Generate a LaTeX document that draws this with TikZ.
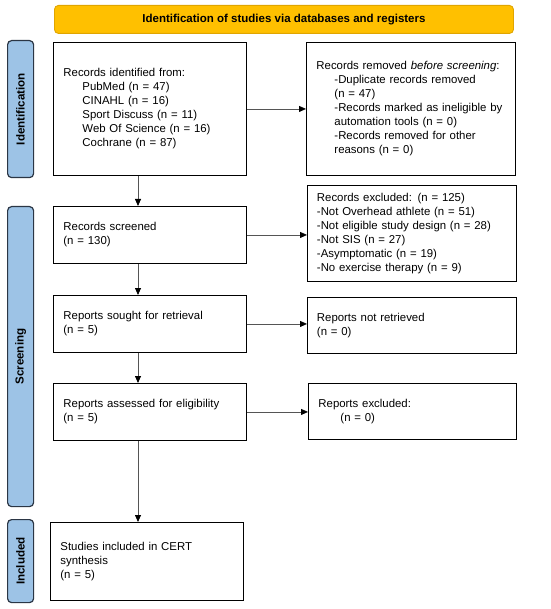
\documentclass[tikz,border=0pt]{standalone}
\usepackage{fontspec}
\setmainfont{Liberation Sans}
\usetikzlibrary{arrows.meta}
\definecolor{gold}{HTML}{FFC000}
\definecolor{goldline}{HTML}{E0A500}
\definecolor{sideblue}{HTML}{9DC3E6}
\definecolor{sideline}{HTML}{2B3645}
\definecolor{arrgray}{HTML}{555555}
\begin{document}
\begin{tikzpicture}[x=1pt,y=-1pt,
  box/.style={draw=black,line width=0.9pt,fill=white,anchor=north west,inner xsep=10pt,inner ysep=0pt,align=left,font=\fontsize{11.4}{14}\selectfont},
  side/.style={draw=sideline,line width=1.2pt,fill=sideblue,rounded corners=4pt,anchor=north west,inner sep=0pt},
  sidetext/.style={rotate=90,font=\fontsize{11.6}{13}\selectfont\bfseries},
  arr/.style={draw=arrgray,line width=0.8pt,-{Triangle[length=7pt,width=6pt,color=black]}}]
\useasboundingbox (0,0) rectangle (550,609);
% banner
\node[draw=goldline,line width=0.9pt,fill=gold,rounded corners=4pt,anchor=north west,minimum width=459pt,minimum height=28pt,inner sep=0pt,font=\fontsize{11.5}{13}\selectfont\bfseries] (banner) at (54,5) {Identification of studies via databases and registers};
% side bars
\node[side,minimum width=26pt,minimum height=137pt] (sid) at (7,40) {};
\node[sidetext] (sidt) at (sid.center) {Identification};
\node[side,minimum width=26pt,minimum height=300pt] (sscr) at (7,206) {};
\node[sidetext] (sscrt) at (sscr.center) {Screening};
\node[side,minimum width=26pt,minimum height=83pt] (sinc) at (7,519) {};
\node[sidetext] (sinct) at (sinc.center) {Included};
% boxes
\node[box,minimum width=193pt,minimum height=133pt,text width=173pt] (ident) at (53,42) {Records identified from:\\
\hspace*{19pt}PubMed (n = 47)\\
\hspace*{19pt}CINAHL (n = 16)\\
\hspace*{19pt}Sport Discuss (n = 11)\\
\hspace*{19pt}Web Of Science (n = 16)\\
\hspace*{19pt}Cochrane (n = 87)};
\node[box,minimum width=209pt,minimum height=133pt,text width=189pt] (removed) at (306,42) {Records removed \textit{before screening}:\\
\hspace*{18pt}-Duplicate records removed\\
\hspace*{18pt}(n = 47)\\
\hspace*{18pt}-Records marked as ineligible by\\
\hspace*{18pt}automation tools (n = 0)\\
\hspace*{18pt}-Records removed for other\\
\hspace*{18pt}reasons (n = 0)};
\node[box,minimum width=193pt,minimum height=57pt,text width=173pt] (screened) at (53,206) {Records screened\\(n = 130)};
\node[box,minimum width=209pt,minimum height=96pt,text width=190pt,inner xsep=9pt] (excluded) at (307,185) {Records excluded: (n = 125)\\
-Not Overhead athlete (n = 51)\\
-Not eligible study design (n = 28)\\
-Not SIS (n = 27)\\
-Asymptomatic (n = 19)\\
-No exercise therapy (n = 9)};
\node[box,minimum width=193pt,minimum height=57pt,text width=173pt] (sought) at (53,295) {Reports sought for retrieval\\(n = 5)};
\node[box,minimum width=209pt,minimum height=56pt,text width=190pt,inner xsep=9pt] (notret) at (307,297) {Reports not retrieved\\(n = 0)};
\node[box,minimum width=208pt,minimum height=56pt,text width=188pt] (repexc) at (308,383) {Reports excluded:\\\hspace*{22pt}(n = 0)};
\node[box,minimum width=193pt,minimum height=57pt,text width=173pt] (assessed) at (53,383) {Reports assessed for eligibility\\(n = 5)};
\node[box,minimum width=193pt,minimum height=78pt,text width=173pt,inner xsep=10pt] (included) at (50,522) {Studies included in CERT\\synthesis\\(n = 5)};
% connectors
\coordinate (xc) at (138,0);
\draw[arr] (ident.south -| xc) -- (screened.north -| xc);
\draw[arr] (screened.south -| xc) -- (sought.north -| xc);
\draw[arr] (sought.south -| xc) -- (assessed.north -| xc);
\draw[arr] (assessed.south -| xc) -- (included.north -| xc);
\draw[arr] (ident.east) -- (ident.east -| removed.west);
\draw[arr] (screened.east) -- (screened.east -| excluded.west);
\draw[arr] (sought.east) -- (sought.east -| notret.west);
\draw[arr] (assessed.east) -- (assessed.east -| repexc.west);
\end{tikzpicture}
\end{document}
